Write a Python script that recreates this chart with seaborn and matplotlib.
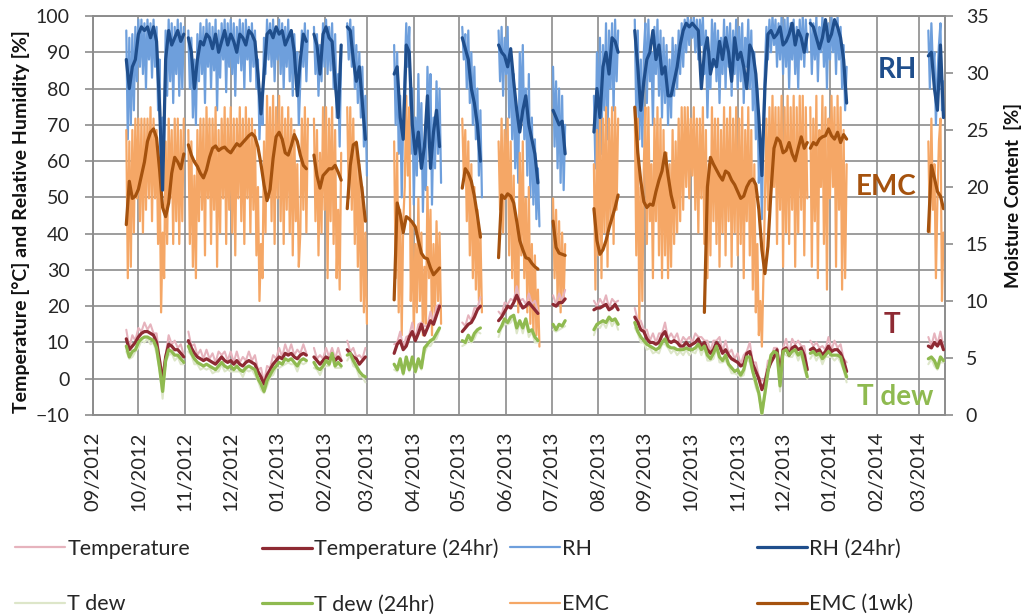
import pandas as pd
import seaborn as sns
import matplotlib.pyplot as plt
import matplotlib.dates as mdates
from matplotlib.lines import Line2D

sns.set_style("white")
plt.rcParams["font.family"] = ["Lato", "DejaVu Sans"]

# segments of logged data (daily raw values, 2-day values for the averages)
seg_start = ["2012-09-23", "2012-11-03", "2013-01-25", "2013-02-16", "2013-03-19", "2013-05-03",
             "2013-05-27", "2013-07-02", "2013-07-29", "2013-08-25", "2013-12-19", "2014-03-07"]
# the weekly EMC average has one more break (late Sep - early Oct 2013)
emc_wk_start = ["2012-09-23", "2012-11-03", "2013-01-25", "2013-02-16", "2013-03-19", "2013-05-03",
                "2013-05-27", "2013-07-02", "2013-07-29", "2013-08-25", "2013-10-10", "2013-12-19",
                "2014-03-07"]

# RH raw [%], one value per day
rh_raw = [
    [96, 66, 94, 70, 95, 74, 97, 82, 99, 86, 99, 84, 98, 80, 99, 88, 98, 83, 99, 86, 97, 74, 88, 48, 72, 62,
     96, 78, 99, 82, 98, 76, 97, 84, 99, 78, 98, 80, 97],
    [96, 80, 94, 72, 88, 70, 95, 82, 98, 84, 97, 76, 99, 86, 98, 80, 97, 85, 99, 74, 96, 83, 98, 88, 99, 79,
     98, 86, 99, 84, 98, 78, 97, 87, 99, 85, 98, 80, 99, 88, 97, 82, 98, 86, 96, 80, 88, 66, 78, 70, 94, 84,
     99, 88, 98, 86, 99, 82, 97, 88, 99, 84, 98, 80, 97, 86, 99, 82, 96, 78, 95, 84, 90, 70, 82, 96, 86, 98,
     82, 96],
    [97, 84, 95, 78, 92, 82, 98, 86, 99, 84, 97, 85, 98, 80, 95, 72, 84, 64, 90],
    [98, 88, 99, 86, 97, 80, 92, 76, 90, 72, 86, 64, 78, 56],
    [92, 70, 90, 62, 78, 50, 72, 84, 98, 86, 97, 62, 80, 48, 72, 56, 84, 60, 76, 46, 64, 52, 86, 70, 84, 48,
     72, 58, 82, 62, 80, 54],
    [97, 88, 95, 80, 96, 76, 90, 70, 86, 66, 80, 56, 74, 50],
    [96, 82, 97, 78, 94, 84, 97, 72, 90, 66, 84, 58, 74, 54, 90, 72, 92, 66, 80, 56, 84, 50, 72, 48, 66, 44,
     58, 42],
    [86, 64, 82, 58, 80, 54, 78, 52, 70],
    [78, 58, 90, 68, 94, 62, 92, 74, 98, 66, 96, 80, 98, 74, 99, 82, 96],
    [99, 72, 96, 66, 88, 64, 90, 98, 76, 99, 82, 90, 70, 97, 84, 99, 78, 96, 72, 94, 76, 92, 70, 88, 72, 94,
     78, 92, 80, 96, 84, 98, 86, 99, 90, 100, 92, 99, 94, 100, 90, 99, 88, 99, 92, 100, 84, 96, 72, 90, 80,
     99, 86, 98, 82, 96, 76, 94, 84, 99, 80, 97, 86, 98, 78, 96, 84, 99, 80, 97, 82, 98, 76, 94, 86, 99, 80,
     96, 74, 90, 66, 80, 54, 66, 44, 72, 86, 97, 88, 99, 90, 100, 92, 99, 86, 98, 88, 100, 84, 99, 86, 100,
     80, 98, 88, 99, 84, 97, 80, 99, 88, 100, 86, 99, 90],
    [99, 84, 98, 88, 100, 82, 97, 90, 100, 86, 99, 80, 98, 88, 100, 90, 99, 84, 100, 88, 97, 80, 92, 74, 86],
    [96, 80, 98, 86, 90, 70, 84, 92, 98, 74, 82],
]

# EMC raw [%], one value per day
emc_raw = [
    [25, 12, 24, 13, 25, 16, 26, 19, 26, 17, 26, 16, 26, 18, 26, 19, 27, 17, 26, 19, 25, 15, 22, 9, 16, 12,
     24, 15, 26, 19, 25, 15, 26, 17, 26, 15, 25, 17, 26],
    [25, 15, 24, 13, 21, 12, 25, 17, 26, 18, 26, 14, 27, 19, 26, 15, 26, 18, 27, 13, 25, 16, 26, 19, 27, 15,
     26, 18, 27, 16, 26, 14, 26, 19, 27, 17, 26, 15, 27, 19, 26, 16, 26, 18, 25, 14, 20, 10, 15, 12, 24, 16,
     28, 19, 27, 17, 28, 15, 27, 19, 28, 17, 27, 15, 26, 18, 27, 16, 26, 14, 25, 17, 22, 13, 16, 26, 18, 27,
     16, 26],
    [26, 17, 25, 14, 23, 16, 27, 18, 27, 12, 26, 17, 27, 15, 25, 12, 18, 11, 23],
    [27, 19, 27, 18, 26, 15, 24, 13, 22, 10, 20, 9, 16, 8],
    [24, 12, 23, 9, 18, 7, 17, 20, 28, 21, 27, 10, 17, 7, 15, 9, 19, 10, 16, 7, 13, 8, 20, 12, 18, 7, 15, 9,
     17, 10, 16, 8],
    [26, 21, 25, 17, 24, 14, 22, 12, 20, 11, 18, 10, 16, 9],
    [24, 18, 26, 16, 25, 19, 26, 14, 24, 12, 21, 10, 17, 9, 23, 14, 24, 12, 19, 9, 20, 8, 15, 7, 14, 7, 11, 6],
    [19, 12, 18, 10, 17, 9, 16, 10, 15],
    [22, 11, 25, 14, 26, 12, 26, 16, 27, 13, 26, 17, 27, 15, 27, 18, 26],
    [27, 14, 26, 8, 20, 10, 22, 27, 15, 27, 17, 22, 12, 26, 17, 27, 14, 26, 12, 25, 14, 23, 12, 22, 13, 25,
     15, 24, 16, 26, 17, 27, 18, 27, 20, 27, 19, 26, 21, 27, 18, 26, 16, 26, 19, 27, 15, 25, 12, 22, 14, 27,
     17, 26, 15, 26, 13, 25, 16, 27, 14, 26, 17, 27, 13, 26, 16, 27, 14, 26, 15, 27, 12, 25, 17, 27, 14, 25,
     11, 22, 9, 15, 7, 10, 6, 12, 19, 26, 18, 27, 19, 28, 20, 27, 15, 27, 18, 28, 13, 27, 16, 28, 15, 27, 18,
     28, 13, 27, 16, 28, 18, 28, 14, 27, 19],
    [27, 13, 26, 17, 28, 12, 25, 20, 28, 15, 27, 11, 26, 19, 28, 20, 27, 13, 28, 18, 27, 11, 25, 12, 22],
    [24, 16, 26, 18, 22, 12, 19, 24, 26, 10, 16],
]

# RH 24hr average [%], every 2 days
rh_24 = [
    [88, 80, 86, 88, 95, 97, 96, 97, 94, 97, 93, 75, 52, 88, 96, 92, 94, 96, 93, 95],
    [94, 90, 80, 88, 93, 92, 95, 94, 91, 95, 90, 93, 96, 92, 95, 93, 90, 95, 94, 92, 96, 95, 93, 84, 73, 84,
     95, 96, 94, 97, 95, 96, 92, 94, 96, 90, 78, 88, 95, 93],
    [95, 92, 84, 95, 97, 94, 93, 82, 72, 92],
    [97, 96, 88, 82, 86, 76, 66],
    [84, 86, 72, 66, 92, 90, 70, 62, 68, 58, 64, 78, 58, 68, 74, 64],
    [94, 91, 88, 80, 76, 70, 60],
    [92, 90, 89, 86, 91, 82, 74, 68, 74, 78, 70, 66, 62, 54],
    [74, 72, 70, 71, 62],
    [68, 80, 72, 86, 90, 84, 94, 93, 90],
    [96, 86, 74, 82, 88, 90, 96, 88, 92, 84, 86, 78, 78, 82, 86, 92, 96, 98, 97, 98, 97, 96, 80, 90, 94, 84,
     88, 86, 93, 88, 94, 90, 82, 94, 88, 90, 86, 80, 92, 90, 84, 72, 56, 80, 95, 96, 94, 95, 97, 92, 93, 95,
     98, 92, 96, 94, 90, 95],
    [98, 97, 94, 91, 94, 99, 93, 95, 99, 97, 94, 88, 76],
    [89, 90, 80, 74, 92, 72],
]

# EMC 1 week average [%], every 2 days
emc_wk = [
    [16.7, 20.5, 19.0, 19.2, 19.8, 21.0, 22.2, 24.0, 24.8, 25.1, 24.3, 21.5, 18.2, 17.4, 18.6, 21.2, 22.6,
     22.2, 21.6, 22.9],
    [23.7, 22.8, 22.2, 21.8, 21.2, 20.8, 21.5, 22.6, 23.4, 23.6, 23.2, 23.4, 23.5, 23.2, 23.0, 23.4, 23.8,
     23.6, 23.9, 24.2, 24.5, 24.7, 24.4, 23.5, 22.0, 20.2, 18.8, 19.8, 22.5, 24.4, 24.8, 24.2, 23.0, 22.8,
     23.6, 24.6, 24.0, 22.8, 21.9, 21.6],
    [22.8, 21.0, 19.9, 21.0, 21.3, 21.6, 21.6, 21.9, 21.3, 20.6],
    [18.1, 21.9, 23.7, 23.9, 21.6, 19.5, 17.0],
    [10.1, 18.6, 17.6, 16.0, 17.4, 17.2, 16.9, 16.5, 15.3, 14.2, 13.8, 13.7, 12.9, 12.3, 12.6, 12.9],
    [19.9, 21.6, 21.2, 20.5, 19.2, 17.5, 15.6],
    [13.8, 19.3, 19.0, 19.4, 19.2, 18.6, 17.0, 15.3, 14.5, 13.8, 13.7, 13.3, 13.0, 12.8],
    [17.0, 14.7, 14.2, 14.1, 14.0],
    [18.1, 15.3, 14.1, 14.5, 15.3, 16.4, 17.3, 18.2, 19.3],
    [27.0, 23.0, 20.5, 18.7, 18.2, 18.5, 18.4, 19.6, 20.6, 21.4, 23.0, 21.0, 19.3, 18.2],
    [9.0, 20.0, 22.6, 22.0, 21.5, 21.0, 20.6, 21.4, 21.2, 20.6, 20.2, 19.6, 19.0, 19.2, 20.0, 20.5, 20.7,
     20.2, 18.0, 14.5, 12.4, 14.8, 19.6, 23.4, 24.3, 24.0, 23.0, 23.2, 23.9, 22.9, 22.3, 23.4, 24.4, 23.4,
     23.9],
    [23.4, 23.9, 23.7, 24.2, 24.4, 24.5, 25.1, 24.5, 24.2, 24.8, 23.9, 24.6, 24.2],
    [16.1, 21.9, 20.8, 19.6, 19.2, 18.1],
]

# Temperature [°C], every 2 days
t_raw = [
    [13.5, 8.5, 12, 10.5, 14, 13, 15.5, 13.5, 15, 12.5, 12.5, 5.5, 1.5, 6.5, 12, 9.5, 10.5, 8.5, 9.5, 6.5],
    [13, 9, 9.5, 6.5, 8, 5.5, 8, 5.5, 7, 4.5, 7.5, 6.5, 7.5, 5, 7.5, 4.5, 7.5, 4.5, 6, 5, 7.5, 5, 6.5, 2.5,
     3, -1, 3.5, 3, 6.5, 5.5, 8.5, 6, 9.5, 7, 9.5, 6.5, 8, 7, 9.5, 7],
    [8.5, 5.5, 6.5, 5.5, 8.5, 6, 8.5, 5.5, 8.5, 5.5],
    [10.5, 7.5, 8.5, 6, 6.5, 5.5, 8.5],
    [9.5, 10, 13, 8.5, 11.5, 12, 15.5, 11, 15, 15.5, 14.5, 14.5, 18.5, 15.5, 20, 20.5],
    [15.5, 14.5, 17.5, 16, 19.5, 19.5, 22.5],
    [18.5, 17.5, 21, 20.5, 22, 21.5, 25.5, 21.5, 22, 20.5, 23.5, 20.5, 21.5, 18.5],
    [23, 20.5, 23.5, 21.5, 24.5],
    [21.5, 20, 22, 20.5, 23, 19.5, 22, 21, 21.5],
    [19.5, 16, 16, 13.5, 13.5, 10.5, 12.5, 10, 12.5, 12.5, 15.5, 11, 12.5, 11, 12.5, 9.5, 11.5, 10.5, 11.5,
     10, 12.5, 11.5, 11.5, 10.5, 10.5, 7.5, 10.5, 10.5, 11.5, 7.5, 10.5, 7, 8, 5.5, 7, 4, 6.5, 7.5, 10, 4.5,
     4.5, 0.5, -0.5, -0.5, 5, 5, 8.5, 8.5, 3.5, 8.5, 11, 7, 11, 9.5, 10.5, 9, 9, 3],
    [10.5, 9, 10, 8.5, 9, 8, 11.5, 8, 10.5, 8.5, 9.5, 5.5, 4.5],
    [11.5, 9, 12.5, 9.5, 13, 8.5],
]
t_24 = [
    [11, 8, 9, 10, 11.5, 12.5, 13, 13, 12.5, 12, 10, 5, -1, 6, 9.5, 9, 8, 8, 7, 6],
    [10.5, 8.5, 7, 6, 5.5, 5, 5.5, 5, 4.5, 4, 5, 6, 5, 4.5, 5, 4, 5, 4, 3.5, 4.5, 5, 4.5, 4, 2, 0.5, -1.5, 1,
     2.5, 4, 5, 6, 5.5, 7, 6.5, 7, 6, 5.5, 6.5, 7, 6.5],
    [6, 5, 4, 5, 6, 5.5, 6, 5, 6, 5],
    [8, 7, 6, 5.5, 4, 5, 6],
    [7, 9.5, 10.5, 8, 9, 11.5, 13, 10.5, 12.5, 15, 12, 14, 16, 15, 17.5, 20],
    [13, 14, 15, 15.5, 17, 19, 20],
    [16, 17, 18.5, 20, 19.5, 21, 23, 21, 19.5, 20, 21, 20, 19, 18],
    [20.5, 20, 21, 21, 22],
    [19, 19.5, 19.5, 20, 20.5, 19, 19.5, 20.5, 19],
    [17, 15.5, 13.5, 13, 11, 10, 10, 9.5, 10, 12, 13, 10.5, 10, 10.5, 10, 9, 9, 10, 9, 9.5, 10, 11, 9, 10, 8,
     7, 8, 10, 9, 7, 8, 6.5, 5.5, 5, 4.5, 3.5, 4, 7, 7.5, 4, 2, 0, -3, -1, 2.5, 4.5, 6, 8, 1, 8, 8.5, 6.5,
     8.5, 9, 8, 8.5, 6.5, 2.5],
    [8, 8.5, 7.5, 8, 6.5, 7.5, 9, 7.5, 8, 8, 7, 5, 2],
    [9, 8.5, 10, 9, 10.5, 8],
]

# Dew point [°C], every 2 days
td_raw = [
    [7.5, 5.5, 6, 7.5, 8.5, 10.5, 10, 11, 9.5, 10, 7, 2.5, -5.5, 4.5, 6.5, 7, 5, 6, 4, 4],
    [7.5, 6.5, 4, 4, 2.5, 3, 2.5, 3, 1.5, 2, 2, 4, 2, 2.5, 2, 2, 2, 2, 0.5, 2.5, 2, 2.5, 1, -0.5, -3, -4, -2,
     0.5, 1, 3, 3, 3.5, 4, 4.5, 4, 4, 2, 4.5, 4, 4.5],
    [3, 2.5, 1, 3, 3.5, 3.5, 5.5, 3, 3, 3],
    [5, 6.5, 3.5, 3, 0.5, 0.5, -1],
    [2.5, 2, 4, 1, 4.5, 2, 4.5, 1.5, 4, 2.5, 7, 9, 9, 10.5, 11, 13.5],
    [9, 9.5, 10.5, 10, 11, 13, 12.5],
    [11.5, 14, 15, 15, 15.5, 17, 12.5, 15.5, 12.5, 16, 11.5, 13, 10, 10],
    [13.5, 13, 13.5, 14, 14.5],
    [12, 14.5, 14, 15.5, 14, 16.5, 14.5, 16, 13.5],
    [14, 12.5, 10, 10, 8, 8.5, 7, 7.5, 7, 9.5, 9.5, 8.5, 7, 8, 6.5, 7.5, 6.5, 8, 6.5, 7.5, 7, 9, 6.5, 8.5, 5,
     5, 5.5, 8.5, 4.5, 4.5, 5, 3.5, 1.5, 1.5, 1, 0.5, 1, 5.5, 4.5, 1.5, -2.5, -4.5, -11, -4.5, 0.5, 6, 6,
     6.5, -3.5, 7, 6.5, 6, 6, 7.5, 5, 7, 2.5, 0],
    [5.5, 7, 5, 6.5, 4, 6, 6, 6, 5, 6, 4.5, 2.5, -1],
    [4, 5.5, 3.5, 2.5, 4.5, 4.5],
]
td_24 = [
    [9, 6, 7.5, 8, 10, 11, 11.5, 11.5, 11, 10.5, 8.5, 3, -3.5, 5, 8, 7.5, 6.5, 6.5, 5.5, 4.5],
    [9, 7, 5.5, 4.5, 4, 3.5, 4, 3.5, 3, 2.5, 3.5, 4.5, 3.5, 3, 3.5, 2.5, 3.5, 2.5, 2, 3, 3.5, 3, 2.5, 0, -1.5,
     -3.5, -0.5, 1, 2.5, 3.5, 4.5, 4, 5.5, 5, 5.5, 4.5, 3.5, 5, 5.5, 5],
    [4.5, 3, 2.5, 3.5, 5, 4, 7, 3.5, 4.5, 3.5],
    [6.5, 7, 5, 3.5, 2, 1, 0.5],
    [4, 2.5, 5.5, 1.5, 6, 2.5, 6, 2, 5.5, 3, 8.5, 9.5, 10.5, 11, 12.5, 14],
    [10.5, 10, 12, 10.5, 12.5, 13.5, 14],
    [13, 14.5, 16.5, 15.5, 17, 17.5, 14, 16, 14, 16.5, 13, 13.5, 11.5, 10.5],
    [15, 13.5, 15, 14.5, 16],
    [13.5, 15, 15.5, 16, 15.5, 17, 16, 16.5, 15],
    [15.5, 13, 11.5, 10.5, 9.5, 9, 8.5, 8, 8.5, 10, 11, 9, 8.5, 8.5, 8, 8, 8, 8.5, 8, 8, 8.5, 9.5, 8, 9, 6.5,
     5.5, 7, 9, 6, 5, 6.5, 4, 3, 2, 2.5, 1, 2.5, 6, 6, 2, -1, -4, -9.5, -4, 2, 6.5, 7.5, 7, -2, 7.5, 8, 6.5,
     7.5, 8, 6.5, 7.5, 4, 0.5],
    [7, 7.5, 6.5, 7, 5.5, 6.5, 7.5, 6.5, 6.5, 6.5, 6, 3, 0.5],
    [5.5, 6, 5, 3, 6, 5],
]


def long_frame(starts, blocks, step):
    parts = []
    for k, (s, vals) in enumerate(zip(starts, blocks)):
        d = pd.date_range(s, periods=len(vals), freq=f"{step}D")
        parts.append(pd.DataFrame({"date": d, "val": vals, "seg": k}))
    return pd.concat(parts, ignore_index=True)


c_t, c_t24 = "#e6b3bd", "#8e2a33"
c_rh, c_rh24 = "#6e9fdc", "#1f4e8c"
c_td, c_td24 = "#dde6c9", "#8fba50"
c_emc, c_emc24 = "#f5a766", "#a5520e"

fig = plt.figure(figsize=(10.24, 6.15), dpi=100)
ax = fig.add_axes([93 / 1024, 1 - 415 / 615, 852 / 1024, 399 / 615])
ax2 = ax.twinx()
ax3 = ax.twinx()
ax.set_zorder(1)
ax2.set_zorder(2)
ax3.set_zorder(3)
ax2.patch.set_visible(False)
ax3.patch.set_visible(False)


def draw(frame, axis, color, lw):
    sns.lineplot(data=frame, x="date", y="val", units="seg", estimator=None,
                 color=color, lw=lw, ax=axis, legend=False)


# bottom layer: raw RH; middle: EMC; top: averages and temperatures
draw(long_frame(seg_start, rh_raw, 1), ax, c_rh, 1.6)
draw(long_frame(seg_start, emc_raw, 1), ax2, c_emc, 1.6)
draw(long_frame(emc_wk_start, emc_wk, 2), ax2, c_emc24, 2.3)
draw(long_frame(seg_start, rh_24, 2), ax3, c_rh24, 2.3)
draw(long_frame(seg_start, t_raw, 2), ax3, c_t, 1.5)
draw(long_frame(seg_start, td_raw, 2), ax3, c_td, 1.5)
draw(long_frame(seg_start, t_24, 2), ax3, c_t24, 2.3)
draw(long_frame(seg_start, td_24, 2), ax3, c_td24, 2.3)

x0, x1 = pd.Timestamp("2012-09-01"), pd.Timestamp("2014-03-18")
ax.set_xlim(x0, x1)
ax.set_ylim(-10, 100)
ax3.set_ylim(-10, 100)
ax2.set_ylim(0, 35)
ax.set_yticks(range(-10, 101, 10))
ax2.set_yticks(range(0, 36, 5))
ax3.axis("off")

ax.xaxis.set_major_locator(mdates.MonthLocator())
ax.xaxis.set_major_formatter(mdates.DateFormatter("%m/%Y"))
ax.grid(True, color="#8c8c8c", lw=1.2)
ax.set_axisbelow(True)
for a in (ax, ax2):
    for sp in a.spines.values():
        sp.set_color("#8c8c8c")
        sp.set_linewidth(1.2)

ax.tick_params(axis="y", direction="out", length=6, width=1.2, color="#8c8c8c",
               labelsize=14, labelcolor="#262626", pad=11)
ax.tick_params(axis="x", direction="out", length=6, width=1.2, color="#8c8c8c",
               labelsize=14.5, labelcolor="#262626", pad=6, labelrotation=90)
ax2.tick_params(axis="y", direction="out", length=6, width=1.2, color="#8c8c8c",
                labelsize=14, labelcolor="#262626", pad=9)

ax.set_xlabel("")
ax2.set_xlabel("")
ax.set_ylabel("Temperature [°C] and Relative Humidity [%]", fontsize=14, fontweight="bold", color="#111111")
ax.yaxis.set_label_coords(-0.074, 0.484)
ax2.set_ylabel("Moisture Content  [%]", fontsize=13.5, fontweight="bold", color="#111111", rotation=90)
ax2.yaxis.set_label_coords(1.069, 0.551)

ax.text(0.944, 0.865, "RH", transform=ax.transAxes, ha="center", va="center",
        fontsize=20, fontweight="bold", color=c_rh24, zorder=10)
ax.text(0.931, 0.571, "EMC", transform=ax.transAxes, ha="center", va="center",
        fontsize=20, fontweight="bold", color=c_emc24, zorder=10)
ax3.text(0.938, 0.226, "T", transform=ax.transAxes, ha="center", va="center",
         fontsize=20, fontweight="bold", color=c_t24, zorder=10)
ax3.text(0.942, 0.045, "T dew", transform=ax.transAxes, ha="center", va="center",
         fontsize=20, fontweight="bold", color=c_td24, zorder=10)

# legend: four columns of two entries
cols = [
    [("Temperature", c_t, 1.6), ("T dew", c_td, 1.6)],
    [("Temperature (24hr)", c_t24, 2.3), ("T dew (24hr)", c_td24, 2.3)],
    [("RH", c_rh, 1.6), ("EMC", c_emc, 1.6)],
    [("RH (24hr)", c_rh24, 2.3), ("EMC (1wk)", c_emc24, 2.3)],
]
col_x = [15 / 1024, 262 / 1024, 510 / 1024, 757 / 1024]
for cx, entries in zip(col_x, cols):
    handles = [Line2D([], [], color=c, lw=lw) for _, c, lw in entries]
    labels = [lab for lab, _, _ in entries]
    fig.legend(handles, labels, loc="upper left", bbox_to_anchor=(cx, 0.124), frameon=False,
               fontsize=15.5, handlelength=2.33, handletextpad=0.1, borderpad=0, borderaxespad=0,
               labelspacing=1.65, labelcolor="#262626")

plt.savefig("out.png", dpi=100)
